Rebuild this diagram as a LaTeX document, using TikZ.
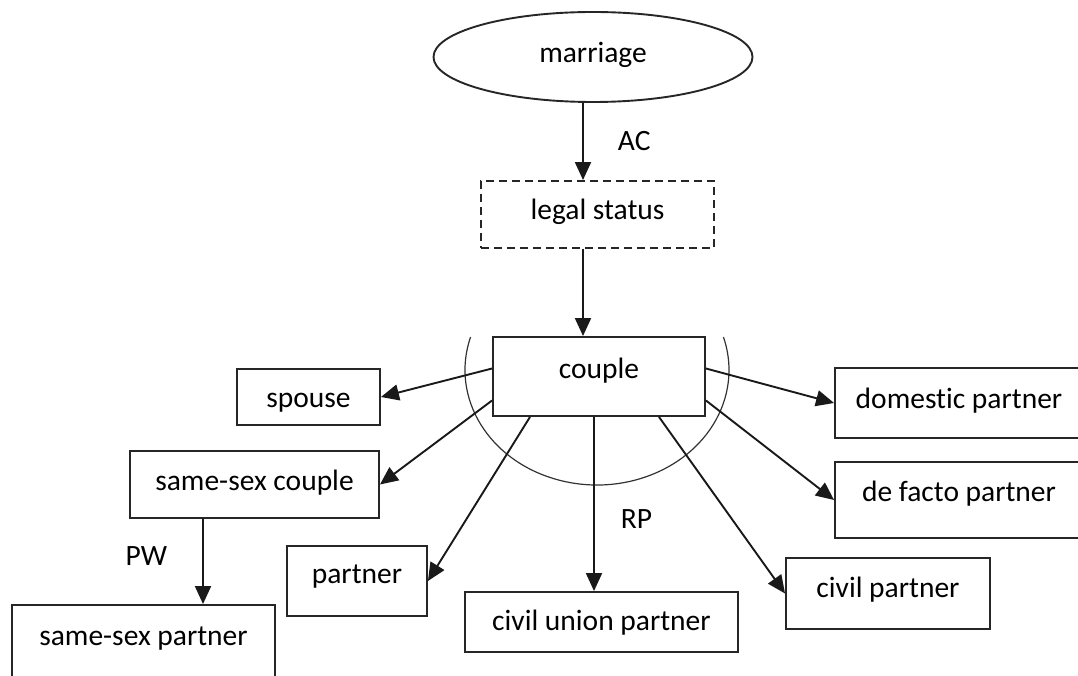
\documentclass[tikz,border=0pt]{standalone}
\usepackage{fontspec}
\setmainfont{Carlito}[Ligatures=NoCommon]
\usetikzlibrary{shapes.geometric,arrows.meta}
\tikzset{
>={Triangle[length=18pt,width=16pt]},
every node/.style={font=\fontsize{29.5}{34}\selectfont},
term/.style={draw=black!85, rectangle, inner sep=0pt, text height=21pt, text depth=5pt},
arr/.style={->, draw=black!90},
lbl/.style={inner sep=0pt},
}

\begin{document}
\begin{tikzpicture}[x=1pt,y=-1pt,line width=1.9pt]
        \clip (0,0) rectangle (1078,676);

        \node[draw=black!85, ellipse, inner sep=0pt, text height=21pt, text depth=9pt, minimum width=319, minimum height=90] (marriage) at (593,57) {marriage};
        \node[term, dashed, dash pattern=on 8pt off 5pt, text depth=10pt, minimum width=233, minimum height=67] (legal) at (597.5,214.5) {legal status};
        \node[term, text depth=18pt, minimum width=212, minimum height=79] (couple) at (599,376.5) {couple};

        \node[term, text height=25pt, minimum width=143, minimum height=56] (spouse) at (308.5,397) {spouse};
        \node[term, text depth=10pt, minimum width=249, minimum height=67] (samecouple) at (254.5,484.5) {same-sex couple};
        \node[term, text depth=17pt, minimum width=263, minimum height=76] (samepartner) at (143.5,643) {same-sex partner};
        \node[term, text depth=17pt, minimum width=140, minimum height=70] (partner) at (357,581) {partner};
        \node[term, minimum width=273, minimum height=60] (civilunion) at (601.5,622) {civil union partner};
        \node[term, text depth=14pt, minimum width=204, minimum height=71] (civilpartner) at (888,593.5) {civil partner};
        \node[term, text depth=19pt, minimum width=248, minimum height=76] (defacto) at (959,500) {de facto partner};
        \node[term, text depth=11pt, minimum width=248, minimum height=70] (domestic) at (959,403) {domestic partner};

        % ring round couple
        \coordinate (ring) at (597,370);
        \draw[line width=1.2pt, black!80] ([shift={(196.7:132 and 115)}]ring) arc[start angle=196.7, end angle=-16.7, x radius=132, y radius=115];

        \draw[arr] ([xshift=-10pt]marriage.south) -- ([xshift=-10pt]marriage.south |- legal.north) node[lbl, midway, right=34pt]{AC};
        \draw[arr] ([xshift=-14.5pt]legal.south) -- ([xshift=-14.5pt]legal.south |- couple.north);

        \draw[arr] ([yshift=8pt]couple.west) -- (spouse.east);
        \draw[arr] ([yshift=-24pt]couple.west) -- (samecouple.east);
        \draw[arr] ([xshift=-69pt]couple.south) -- (partner.east);
        \draw[arr] ([xshift=-5pt]couple.south) -- ([xshift=-5pt]couple.south |- civilunion.north) node[lbl, pos=.585, right=26pt]{RP};
        \draw[arr] ([xshift=60pt]couple.south) -- (civilpartner.west);
        \draw[arr] ([yshift=-24pt]couple.east) -- (defacto.west);
        \draw[arr] ([yshift=8pt]couple.east) -- (domestic.west);

        \draw[arr] ([xshift=-51.5pt]samecouple.south) -- ([xshift=-51.5pt]samecouple.south |- samepartner.north) node[lbl, pos=.44, left=35pt]{PW};
    \end{tikzpicture}
\end{document}
